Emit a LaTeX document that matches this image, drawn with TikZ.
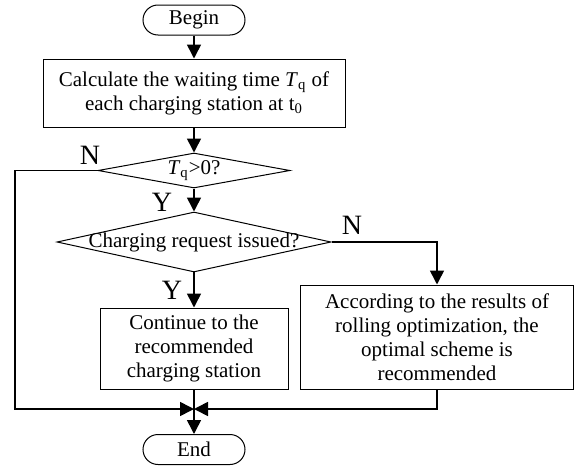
\documentclass[tikz,border=0pt]{standalone}
\usepackage{fontspec}
\setmainfont{Liberation Serif}
\usetikzlibrary{arrows.meta,shapes.geometric}

\begin{document}
\begin{tikzpicture}[x=0.5pt,y=-0.5pt,-{Triangle[length=7pt,width=7pt]},line width=0.8pt,font=\fontsize{10.5}{12}\selectfont]
   \useasboundingbox (0,0) rectangle (579,466);
   \tikzstyle{term}=[rectangle, rounded corners=7.5pt, draw, line width=0.5pt, minimum width=51pt, minimum height=15pt, inner sep=0pt]
   \tikzstyle{proc}=[rectangle, draw, line width=0.5pt, align=center, inner sep=0pt]
   \tikzstyle{decision}=[diamond, draw, line width=0.5pt, inner sep=0pt]
   \tikzstyle{yn}=[font=\fontsize{14}{14}\selectfont]
   \node[term] (begin) at (194,20) {Begin};
   \node[proc, minimum width=151pt, minimum height=34pt] (waiting) at (194,93)
      {Calculate the waiting time \textit{T}\textsubscript{q} of\\each charging station at t\textsubscript{0}};
   \node[decision, minimum width=96pt, minimum height=17.5pt,
      label={center:\textit{T}\textsubscript{q}>0?}] (check) at (194,170.5) {};
   \node[decision, minimum width=137pt, minimum height=30pt,
      label={center:Charging request issued?}] (request) at (194,242) {};
   \node[proc, minimum width=94pt, minimum height=40.5pt] (keep) at (194,348.5)
      {Continue to the\\recommended\\charging station};
   \node[proc, minimum width=136.5pt, minimum height=52pt] (rolling) at (437,337)
      {According to the results of\\rolling optimization, the\\optimal scheme is\\recommended};
   \node[term] (stop) at (194,449.5) {End};
   % yes / no marks
   \node[yn] (no1) at (90,155) {N};
   \node[yn] (yes1) at (162,202) {Y};
   \node[yn] (yes2) at (172,290) {Y};
   \node[yn] (no2) at (352,225) {N};
   % arrows
   \coordinate (join) at (194,409);
   \coordinate (leftx) at (15,409);
   \path (begin) edge (waiting);
   \path (waiting) edge (check);
   \path (check) edge (request);
   \path (request) edge (keep);
   \path (keep) edge (stop);
   \draw (check.west) -| (leftx) -- (join);
   \draw (request.east) -| (rolling.north);
   \draw (rolling.south) |- (join);
\end{tikzpicture}
\end{document}
